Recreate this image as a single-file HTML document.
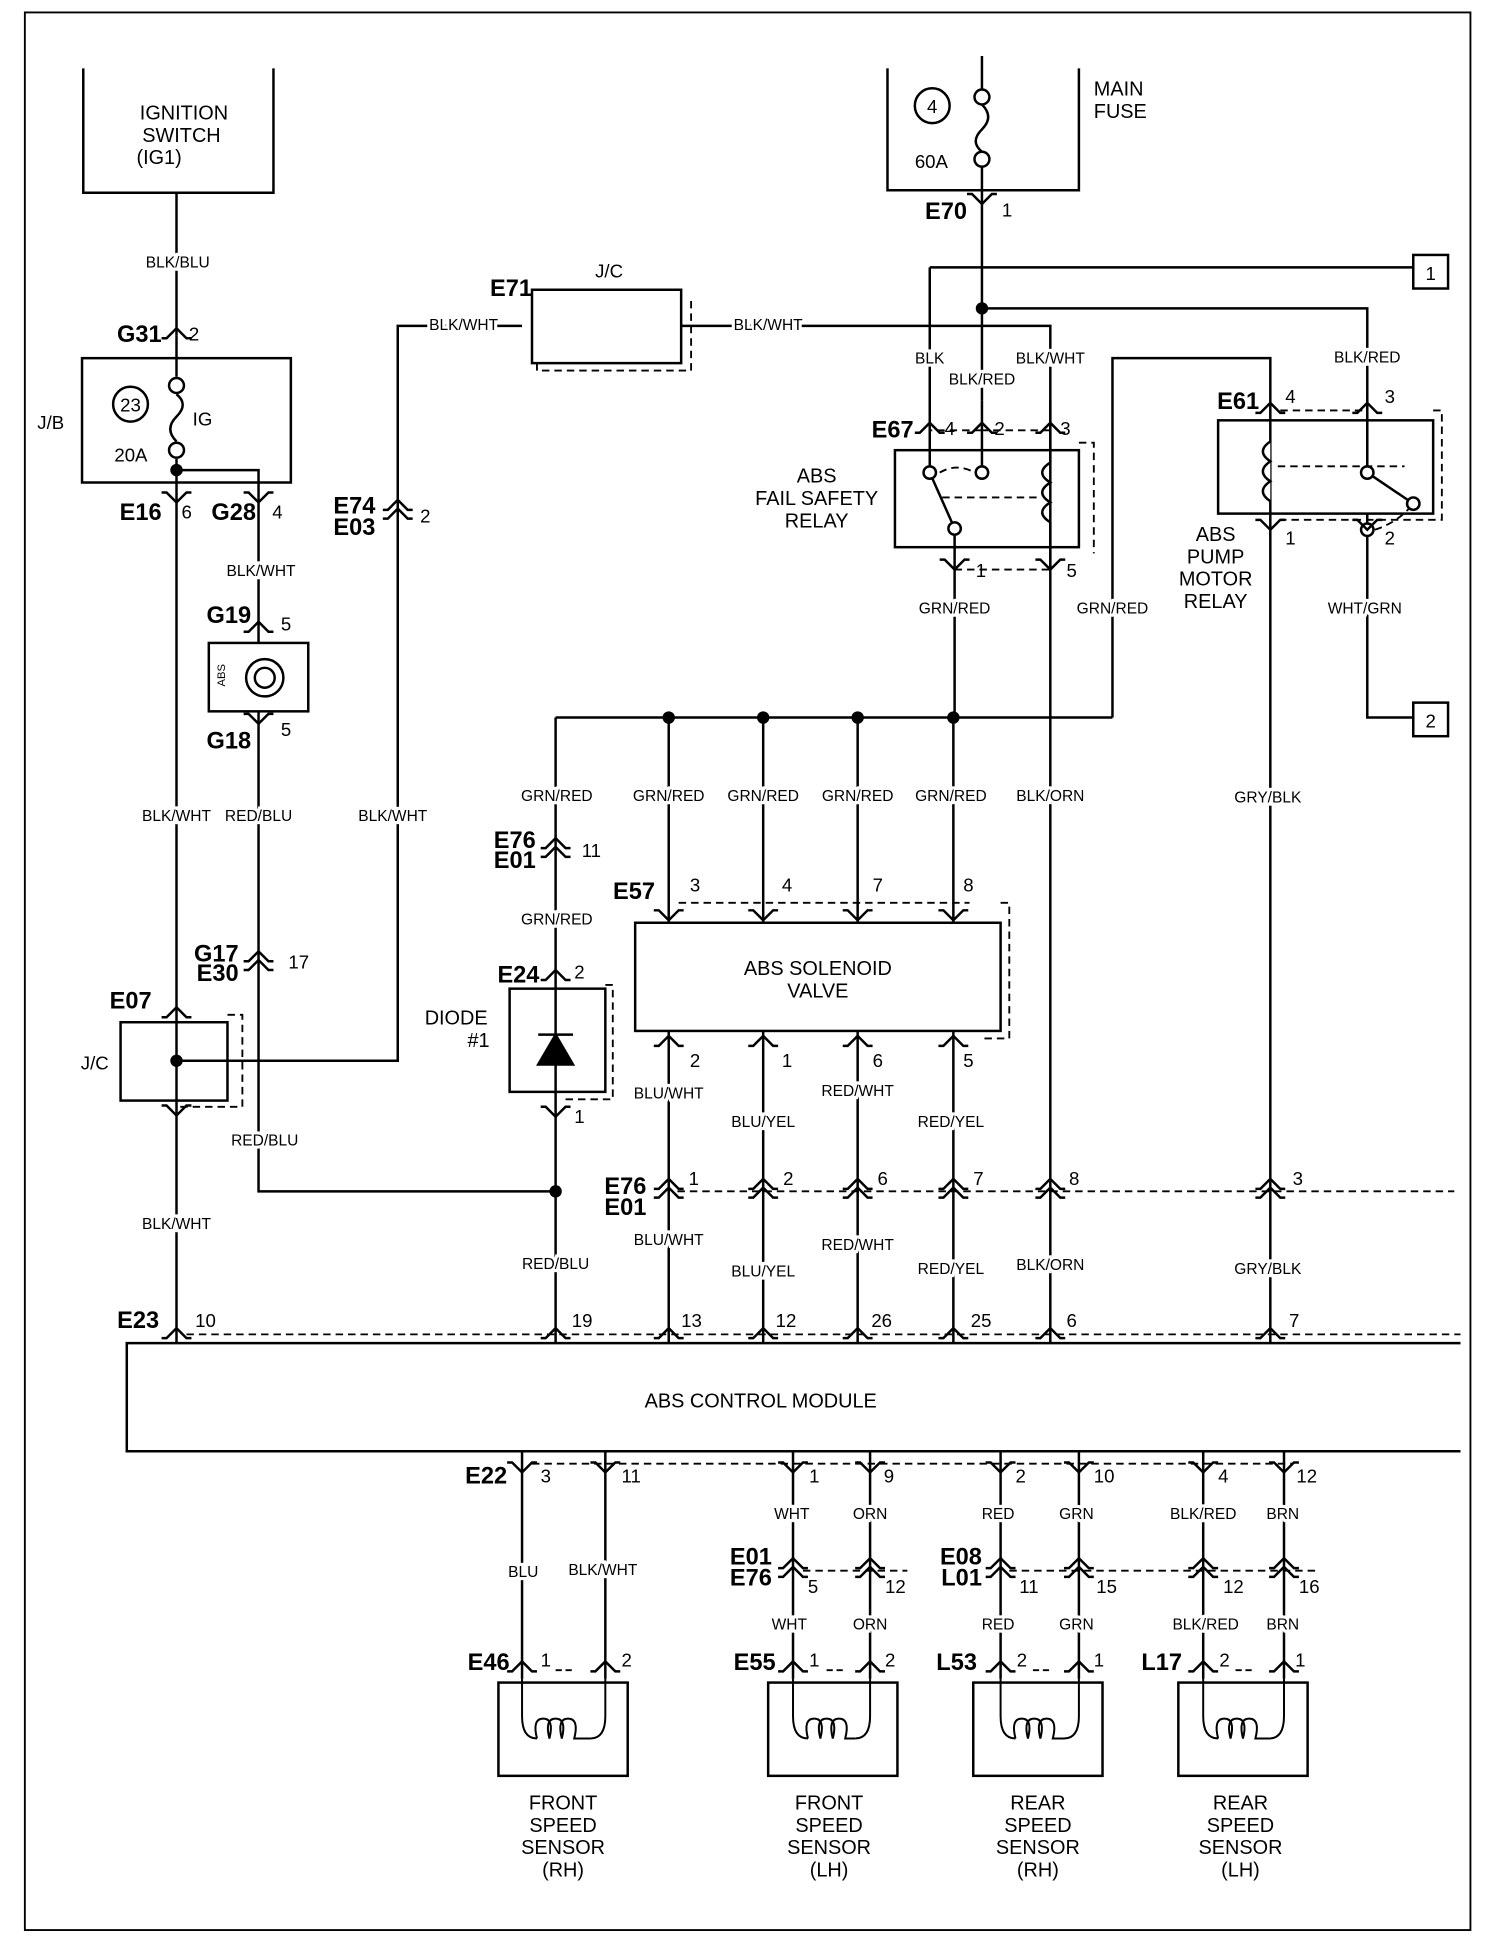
<!DOCTYPE html>
<html><head><meta charset="utf-8"><style>
html,body{margin:0;padding:0;background:#fff}
svg{display:block}
text{font-family:"Liberation Sans",Arial,sans-serif;fill:#000}
.w{font-size:12.5px;text-anchor:middle;stroke:#fff;stroke-width:5;paint-order:stroke;dominant-baseline:middle}
.n{font-size:15px;dominant-baseline:middle}
.b{font-size:19px;font-weight:bold;dominant-baseline:middle;text-anchor:end}
.t{font-size:16px;text-anchor:middle}
</style></head><body>
<svg width="1504" height="1940" viewBox="0 0 1210 1560" preserveAspectRatio="none" xmlns="http://www.w3.org/2000/svg">
<defs>
<path id="c" d="M-12,8 L-8,8 L0,0 L8,8 L12,8" fill="none" stroke="#000" stroke-width="2"/>
<path id="v" d="M-12,-8 L-8,-8 L0,0 L8,-8 L12,-8" fill="none" stroke="#000" stroke-width="2"/>
<g id="cc"><use href="#c"/><use href="#c" y="7"/></g>
</defs>
<g fill="none" stroke="#000" stroke-width="2">
<rect x="20" y="10" width="1163" height="1542" stroke-width="1.5"/>
<path d="M67,55 V155 H220 V55"/>
<path d="M142,155 V270"/>
<rect x="66" y="288" width="168" height="100"/>
<path d="M142,270 V303 M142,317 Q152,325 142,335 Q132,345 142,355 M142,369 V1080"/>
<circle cx="142" cy="310" r="6" fill="#fff"/><circle cx="142" cy="362" r="6" fill="#fff"/>
<circle cx="105" cy="325" r="14"/>
<path d="M142,378 H208 V517 M208,572 V958 H447"/>
<rect x="168" y="517" width="80" height="55"/>
<circle cx="213" cy="545" r="15"/><circle cx="213" cy="545" r="8"/>
<rect x="97" y="822" width="86" height="63"/>
<path d="M183,816 H195 V890 H142" stroke-dasharray="6,4" stroke-width="1.5"/>
<path d="M142,853 H320 V262 H420"/>
<rect x="428" y="233" width="120" height="59"/>
<path d="M432,292 V298 H556 V240" stroke-dasharray="6,4" stroke-width="1.5"/>
<path d="M548,262 H845 V1080"/>
<path d="M714,55 V153 H868 V55"/>
<circle cx="750" cy="85" r="14"/>
<path d="M790,45 V72 M790,84 Q800,94 790,104 Q780,114 790,122 M790,134 V322"/>
<circle cx="790" cy="78" r="6" fill="#fff"/><circle cx="790" cy="128" r="6" fill="#fff"/>
<path d="M748,215 H1137 M748,215 V380 M790,248 H1100 V380"/>
<rect x="1137" y="205" width="28" height="27"/>
<rect x="720" y="362" width="148" height="78"/>
<path d="M868,356 H880 V445 M790,346 H748 M845,346 H790 M768,458 H845" stroke-dasharray="6,4" stroke-width="1.5"/>
<path d="M748,380 L768,425 V580 M790,322 V380 M845,322 V372 M845,428 V458"/>
<path d="M845,372 Q832,380 845,388 Q832,396 845,404 Q832,412 845,420 V428" />
<path d="M756,380 Q770,372 784,380 M758,400 H838" stroke-dasharray="6,4" stroke-width="1.5"/>
<circle cx="748" cy="380" r="5" fill="#fff"/><circle cx="790" cy="380" r="5" fill="#fff"/><circle cx="768" cy="425" r="5" fill="#fff"/>
<path d="M895,577 V288 H1022 V1080"/>
<rect x="980" y="338" width="173" height="75"/>
<path d="M1153,330 H1160 V418 H1030 M1030,330 H1100" stroke-dasharray="6,4" stroke-width="1.5"/>
<path d="M1022,355 Q1010,363 1022,371 Q1010,379 1022,387 Q1010,395 1022,403" fill="#fff"/>
<path d="M1100,320 V380 L1137,405 M1100,413 V577 H1137"/>
<path d="M1028,375 H1130 M1106,426 Q1125,420 1137,405" stroke-dasharray="6,4" stroke-width="1.5"/>
<circle cx="1100" cy="380" r="5" fill="#fff"/><circle cx="1137" cy="405" r="5" fill="#fff"/><circle cx="1100" cy="426" r="5" fill="#fff"/>
<rect x="1137" y="565" width="28" height="27"/>
<path d="M447,577 H895 M447,577 V795 M447,878 V1080 M538,577 V742 M614,577 V742 M690,577 V742 M767,577 V742"/>
<rect x="410" y="795" width="77" height="83"/>
<path d="M487,792 H493 V884 H453" stroke-dasharray="6,4" stroke-width="1.5"/>
<path d="M447,795 V878"/>
<path d="M433,856 H461 L447,832 Z M433,832 H461" fill="#000"/>
<rect x="511" y="742" width="294" height="87"/>
<path d="M805,726 H812 V835 H790 M546,726 H780" stroke-dasharray="6,4" stroke-width="1.5"/>
<path d="M538,829 V1080 M614,829 V1080 M690,829 V1080 M767,829 V1080"/>
<path d="M545,958 H1170 M150,1073 H1175 M428,1177 H1040 M646,1263 H730 M812,1263 H1060" stroke-dasharray="6,4" stroke-width="1.5"/>
<path d="M1175,1080 H102 V1167 H1175"/>
<path d="M420,1167 V1350 M487,1167 V1350 M638,1167 V1350 M700,1167 V1350 M805,1167 V1350 M868,1167 V1350 M968,1167 V1350 M1033,1167 V1350"/>
<rect x="401" y="1353" width="104" height="75"/>
<rect x="618" y="1353" width="104" height="75"/>
<rect x="783" y="1353" width="104" height="75"/>
<rect x="948" y="1353" width="104" height="75"/>
<path d="M447,1343 H463 M665,1343 H681 M831,1343 H847 M994,1343 H1010" stroke-dasharray="5,3" stroke-width="1.5"/>
</g>
<g fill="none" stroke="#000" stroke-width="1.6">
<path d="M420,1350 V1380 Q420,1398 432,1398 M487,1350 V1380 Q487,1398 475,1398"/>
<path d="M638,1350 V1380 Q638,1398 650,1398 M700,1350 V1380 Q700,1398 688,1398"/>
<path d="M805,1350 V1380 Q805,1398 817,1398 M868,1350 V1380 Q868,1398 856,1398"/>
<path d="M968,1350 V1380 Q968,1398 980,1398 M1033,1350 V1380 Q1033,1398 1021,1398"/>
<path d="M432,1398 Q428,1382 437,1382 Q446,1382 442,1398 Q438,1382 447,1382 Q456,1382 452,1398 Q448,1382 457,1382 Q466,1382 462,1398 H475"/>
<path d="M650,1398 Q646,1382 655,1382 Q664,1382 660,1398 Q656,1382 665,1382 Q674,1382 670,1398 Q666,1382 675,1382 Q684,1382 680,1398 H688"/>
<path d="M817,1398 Q813,1382 822,1382 Q831,1382 827,1398 Q823,1382 832,1382 Q841,1382 837,1398 Q833,1382 842,1382 Q851,1382 847,1398 H856"/>
<path d="M980,1398 Q976,1382 985,1382 Q994,1382 990,1398 Q986,1382 995,1382 Q1004,1382 1000,1398 Q996,1382 1005,1382 Q1014,1382 1010,1398 H1021"/>
</g>
<g fill="#000">
<circle cx="142" cy="378" r="5"/><circle cx="142" cy="853" r="5"/><circle cx="790" cy="248" r="5"/>
<circle cx="538" cy="577" r="5"/><circle cx="614" cy="577" r="5"/><circle cx="690" cy="577" r="5"/><circle cx="767" cy="577" r="5"/>
<circle cx="447" cy="958" r="5"/>
</g>
<use href="#c" x="142" y="264"/>
<use href="#v" x="142" y="404"/><use href="#v" x="208" y="404"/>
<use href="#c" x="208" y="500"/><use href="#v" x="208" y="582"/>
<use href="#cc" x="320" y="402"/>
<use href="#cc" x="208" y="765"/>
<use href="#c" x="142" y="810"/><use href="#v" x="142" y="897"/>
<use href="#v" x="790" y="164"/>
<use href="#c" x="748" y="340"/><use href="#c" x="790" y="340"/><use href="#c" x="845" y="340"/>
<use href="#v" x="768" y="458"/><use href="#v" x="845" y="458"/>
<use href="#c" x="1022" y="324"/><use href="#c" x="1100" y="324"/>
<use href="#v" x="1022" y="426"/><use href="#v" x="1100" y="426"/>
<use href="#cc" x="447" y="674"/>
<use href="#c" x="447" y="780"/><use href="#v" x="447" y="898"/>
<use href="#v" x="538" y="740"/><use href="#v" x="614" y="740"/><use href="#v" x="690" y="740"/><use href="#v" x="767" y="740"/>
<use href="#c" x="538" y="833"/><use href="#c" x="614" y="833"/><use href="#c" x="690" y="833"/><use href="#c" x="767" y="833"/>
<g><use href="#cc" x="538" y="948"/><use href="#cc" x="614" y="948"/><use href="#cc" x="690" y="948"/><use href="#cc" x="767" y="948"/><use href="#cc" x="845" y="948"/><use href="#cc" x="1022" y="948"/></g>
<g><use href="#c" x="142" y="1068"/><use href="#c" x="447" y="1068"/><use href="#c" x="538" y="1068"/><use href="#c" x="614" y="1068"/><use href="#c" x="690" y="1068"/><use href="#c" x="767" y="1068"/><use href="#c" x="845" y="1068"/><use href="#c" x="1022" y="1068"/></g>
<g><use href="#v" x="420" y="1184"/><use href="#v" x="487" y="1184"/><use href="#v" x="638" y="1184"/><use href="#v" x="700" y="1184"/><use href="#v" x="805" y="1184"/><use href="#v" x="868" y="1184"/><use href="#v" x="968" y="1184"/><use href="#v" x="1033" y="1184"/></g>
<g><use href="#cc" x="638" y="1253"/><use href="#cc" x="700" y="1253"/><use href="#cc" x="805" y="1253"/><use href="#cc" x="868" y="1253"/><use href="#cc" x="968" y="1253"/><use href="#cc" x="1033" y="1253"/></g>
<g><use href="#c" x="420" y="1336"/><use href="#c" x="487" y="1336"/><use href="#c" x="638" y="1336"/><use href="#c" x="700" y="1336"/><use href="#c" x="805" y="1336"/><use href="#c" x="868" y="1336"/><use href="#c" x="968" y="1336"/><use href="#c" x="1033" y="1336"/></g>
<text class="t" x="148" y="96">IGNITION</text><text class="t" x="146" y="114">SWITCH</text><text class="t" x="128" y="132">(IG1)</text>
<text class="t" x="105" y="331" style="font-size:15px">23</text>
<text class="t" x="750" y="91" style="font-size:15px">4</text>
<text x="880" y="77" style="font-size:16px">MAIN</text><text x="880" y="95" style="font-size:16px">FUSE</text>
<text x="736" y="135" style="font-size:15px">60A</text>
<text x="30" y="345" style="font-size:15px">J/B</text>
<text x="155" y="342" style="font-size:15px">IG</text>
<text x="92" y="371" style="font-size:15px">20A</text>
<text x="490" y="223" class="t" style="font-size:15px">J/C</text>
<text x="65" y="860" style="font-size:15px">J/C</text>
<text class="t" x="657" y="388">ABS</text><text class="t" x="657" y="406">FAIL SAFETY</text><text class="t" x="657" y="424">RELAY</text>
<text class="t" x="978" y="435">ABS</text><text class="t" x="978" y="453">PUMP</text><text class="t" x="978" y="471">MOTOR</text><text class="t" x="978" y="489">RELAY</text>
<text class="t" x="1151" y="225" style="font-size:15px">1</text>
<text class="t" x="1151" y="585" style="font-size:15px">2</text>
<text class="t" x="367" y="824">DIODE</text><text class="t" x="385" y="842">#1</text>
<text class="t" x="658" y="784">ABS SOLENOID</text><text class="t" x="658" y="802">VALVE</text>
<text class="t" x="612" y="1132">ABS CONTROL MODULE</text>
<text x="181" y="552" style="font-size:9px" transform="rotate(-90 181 552)">ABS</text>
<g class="t">
<text x="453" y="1455">FRONT</text><text x="453" y="1473">SPEED</text><text x="453" y="1491">SENSOR</text><text x="453" y="1509">(RH)</text>
<text x="667" y="1455">FRONT</text><text x="667" y="1473">SPEED</text><text x="667" y="1491">SENSOR</text><text x="667" y="1509">(LH)</text>
<text x="835" y="1455">REAR</text><text x="835" y="1473">SPEED</text><text x="835" y="1491">SENSOR</text><text x="835" y="1509">(RH)</text>
<text x="998" y="1455">REAR</text><text x="998" y="1473">SPEED</text><text x="998" y="1491">SENSOR</text><text x="998" y="1509">(LH)</text>
</g>
<g class="b">
<text x="130" y="270">G31</text><text x="130" y="413">E16</text><text x="206" y="413">G28</text>
<text x="202" y="496">G19</text><text x="202" y="597">G18</text>
<text x="302" y="408">E74</text><text x="302" y="425">E03</text>
<text x="192" y="768">G17</text><text x="192" y="784">E30</text>
<text x="122" y="806">E07</text><text x="428" y="233">E71</text>
<text x="778" y="171">E70</text><text x="735" y="347">E67</text><text x="1013" y="324">E61</text>
<text x="431" y="677">E76</text><text x="431" y="693">E01</text>
<text x="434" y="785">E24</text><text x="527" y="718">E57</text>
<text x="520" y="955">E76</text><text x="520" y="972">E01</text>
<text x="128" y="1063">E23</text><text x="408" y="1188">E22</text>
<text x="621" y="1253">E01</text><text x="621" y="1270">E76</text>
<text x="790" y="1253">E08</text><text x="790" y="1270">L01</text>
<text x="410" y="1338">E46</text><text x="624" y="1338">E55</text><text x="786" y="1338">L53</text><text x="951" y="1338">L17</text>
</g>
<g class="n">
<text x="152" y="270">2</text><text x="146" y="413">6</text><text x="219" y="413">4</text>
<text x="226" y="503">5</text><text x="226" y="588">5</text><text x="338" y="416">2</text><text x="232" y="775">17</text>
<text x="806" y="170">1</text>
<text x="760" y="346">4</text><text x="800" y="346">2</text><text x="853" y="346">3</text>
<text x="785" y="460">1</text><text x="858" y="460">5</text>
<text x="1034" y="320">4</text><text x="1114" y="320">3</text><text x="1034" y="434">1</text><text x="1114" y="434">2</text>
<text x="468" y="685">11</text><text x="462" y="783">2</text><text x="462" y="899">1</text>
<text x="555" y="713">3</text><text x="629" y="713">4</text><text x="702" y="713">7</text><text x="775" y="713">8</text>
<text x="555" y="854">2</text><text x="629" y="854">1</text><text x="702" y="854">6</text><text x="775" y="854">5</text>
<text x="554" y="949">1</text><text x="630" y="949">2</text><text x="706" y="949">6</text><text x="783" y="949">7</text><text x="860" y="949">8</text><text x="1040" y="949">3</text>
<text x="157" y="1063">10</text><text x="460" y="1063">19</text><text x="548" y="1063">13</text><text x="624" y="1063">12</text><text x="701" y="1063">26</text><text x="781" y="1063">25</text><text x="858" y="1063">6</text><text x="1037" y="1063">7</text>
<text x="435" y="1188">3</text><text x="500" y="1188">11</text><text x="651" y="1188">1</text><text x="711" y="1188">9</text><text x="817" y="1188">2</text><text x="880" y="1188">10</text><text x="980" y="1188">4</text><text x="1043" y="1188">12</text>
<text x="650" y="1277">5</text><text x="712" y="1277">12</text><text x="820" y="1277">11</text><text x="882" y="1277">15</text><text x="984" y="1277">12</text><text x="1045" y="1277">16</text>
<text x="435" y="1336">1</text><text x="500" y="1336">2</text><text x="651" y="1336">1</text><text x="712" y="1336">2</text><text x="818" y="1336">2</text><text x="880" y="1336">1</text><text x="981" y="1336">2</text><text x="1042" y="1336">1</text>
</g>
<g class="w">
<text x="143" y="212">BLK/BLU</text>
<text x="210" y="460">BLK/WHT</text>
<text x="373" y="262">BLK/WHT</text><text x="618" y="262">BLK/WHT</text>
<text x="748" y="289">BLK</text><text x="790" y="306">BLK/RED</text><text x="845" y="289">BLK/WHT</text><text x="1100" y="288">BLK/RED</text>
<text x="768" y="490">GRN/RED</text><text x="895" y="490">GRN/RED</text><text x="1098" y="490">WHT/GRN</text>
<text x="142" y="657">BLK/WHT</text><text x="208" y="657">RED/BLU</text><text x="316" y="657">BLK/WHT</text>
<text x="448" y="641">GRN/RED</text><text x="538" y="641">GRN/RED</text><text x="614" y="641">GRN/RED</text><text x="690" y="641">GRN/RED</text><text x="765" y="641">GRN/RED</text>
<text x="845" y="641">BLK/ORN</text><text x="1020" y="642">GRY/BLK</text>
<text x="448" y="740">GRN/RED</text>
<text x="213" y="918">RED/BLU</text><text x="142" y="985">BLK/WHT</text>
<text x="538" y="880">BLU/WHT</text><text x="614" y="903">BLU/YEL</text><text x="690" y="878">RED/WHT</text><text x="765" y="903">RED/YEL</text>
<text x="538" y="998">BLU/WHT</text><text x="614" y="1023">BLU/YEL</text><text x="690" y="1002">RED/WHT</text><text x="765" y="1021">RED/YEL</text><text x="845" y="1018">BLK/ORN</text><text x="1020" y="1021">GRY/BLK</text>
<text x="447" y="1017">RED/BLU</text>
<text x="421" y="1265">BLU</text><text x="485" y="1263">BLK/WHT</text>
<text x="637" y="1218">WHT</text><text x="700" y="1218">ORN</text><text x="803" y="1218">RED</text><text x="866" y="1218">GRN</text><text x="968" y="1218">BLK/RED</text><text x="1032" y="1218">BRN</text>
<text x="635" y="1307">WHT</text><text x="700" y="1307">ORN</text><text x="803" y="1307">RED</text><text x="866" y="1307">GRN</text><text x="970" y="1307">BLK/RED</text><text x="1032" y="1307">BRN</text>
</g>
</svg>
</body></html>
